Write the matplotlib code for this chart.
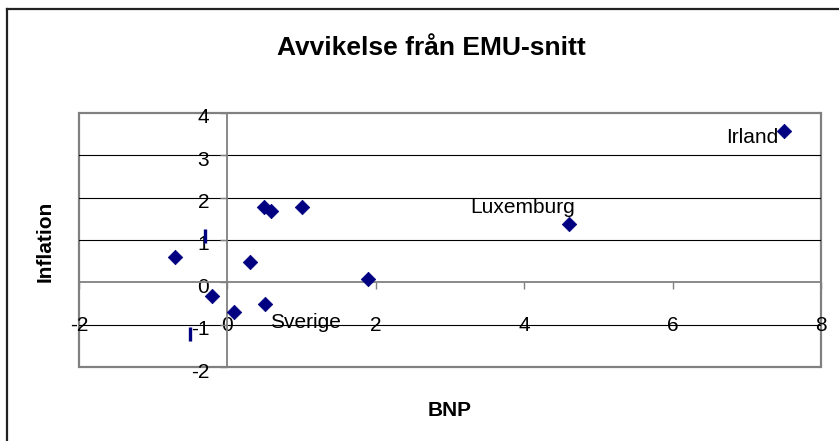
"""
Avvikelse från EMU-snitt: BNP mot inflation
"""
import matplotlib
matplotlib.use('Agg')
import matplotlib.pyplot as plt
from matplotlib.lines import Line2D
from matplotlib.transforms import ScaledTranslation

# avvikelse från EMU-snittet, procentenheter
bnp = [-0.70, -0.21, 0.09, 0.30, 0.49, 0.59, 1.00, 0.50, 1.89, 4.60, 7.50]
inflation = [0.59, -0.32, -0.71, 0.49, 1.79, 1.69, 1.79, -0.50, 0.09, 1.37, 3.58]

# två punkter som bara syns som streck
streck_bnp = [-0.30, -0.50]
streck_inflation = [1.09, -1.21]

etiketter = ['Sverige', 'Luxemburg', 'Irland']
etikett_x = [0.57, 4.68, 7.43]
etikett_y = [-0.94, 1.76, 3.41]
etikett_ha = ['left', 'right', 'right']

x_ticks = [-2, 0, 2, 4, 6, 8]
y_ticks = [-2, -1, 0, 1, 2, 3, 4]

plt.rcParams['font.family'] = ['Liberation Sans', 'DejaVu Sans']
plt.rcParams['axes.unicode_minus'] = False

W, H = 839, 441
fig = plt.figure(figsize=(W / 100, H / 100), dpi=100)

# ramen runt hela diagrammet (vänster och överkant syns)
fig.add_artist(Line2D([7 / W, 7 / W], [0, 1 - 9 / H], color='#222222', lw=1.6))
fig.add_artist(Line2D([7 / W, 1], [1 - 9 / H, 1 - 9 / H], color='#222222', lw=1.6))

ax = fig.add_axes([79 / W, (H - 367) / H, (821 - 79) / W, (367 - 113) / H])
ax.set_xlim(-2, 8)
ax.set_ylim(-2, 4)

ax.patch.set_edgecolor('#808080')
ax.patch.set_linewidth(1.6)

for s in ['top', 'right']:
    ax.spines[s].set_visible(False)
ax.spines['left'].set_position(('data', 0))
ax.spines['bottom'].set_position(('data', 0))
for s in ['left', 'bottom']:
    ax.spines[s].set_color('#808080')
    ax.spines[s].set_linewidth(1.3)

for y in [-1, 1, 2, 3]:
    ax.axhline(y, color='black', lw=0.8, zorder=1)

ax.set_xticks(x_ticks)
ax.set_yticks(y_ticks)
ax.tick_params(axis='both', direction='out', length=5, width=1, color='#808080',
               labelsize=15)
ax.tick_params(axis='x', pad=19)
ax.tick_params(axis='y', pad=8)

# y-etiketterna sitter lite under sina linjer
skift = ScaledTranslation(0, -3 / 100, fig.dpi_scale_trans)
for lbl in ax.get_yticklabels():
    lbl.set_transform(lbl.get_transform() + skift)

ax.scatter(bnp, inflation, marker='D', s=7.4 ** 2, color='#000080',
           edgecolors='#000080', linewidths=0.5, zorder=3)
ax.scatter(streck_bnp, streck_inflation, marker='|', s=9.5 ** 2, color='#000080',
           linewidths=2.4, zorder=3)

for txt, x, y, ha in zip(etiketter, etikett_x, etikett_y, etikett_ha):
    ax.text(x, y, txt, ha=ha, va='center', fontsize=15, zorder=4)

fig.text(431 / W, 1 - 48 / H, 'Avvikelse från EMU-snitt', ha='center', va='center',
         fontsize=19, fontweight='bold')
fig.text(450 / W, 1 - 410.5 / H, 'BNP', ha='center', va='center',
         fontsize=15, fontweight='bold')
fig.text(45 / W, 1 - 241 / H, 'Inflation', ha='center', va='center',
         rotation=90, fontsize=15, fontweight='bold')

fig.savefig('out.png', dpi=100)
